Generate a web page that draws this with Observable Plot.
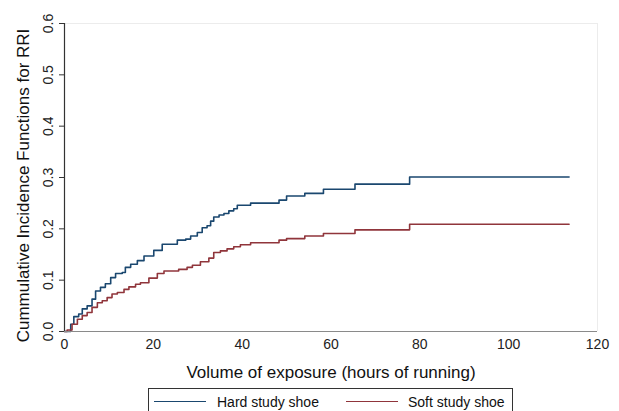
<!DOCTYPE html>
<html>
<head>
<meta charset="utf-8">
<script src="https://cdn.jsdelivr.net/npm/d3@7"></script>
<script src="https://cdn.jsdelivr.net/npm/@observablehq/plot@0.6"></script>
<style>
  html, body { margin: 0; padding: 0; background: #fff; }
  #wrap { position: relative; width: 619px; height: 411px; overflow: hidden; font-family: "Liberation Sans", Arial, sans-serif; }
  #legend { position: absolute; left: 148px; top: 388px; width: 363px; height: 30px; border: 1px solid #333; box-sizing: content-box; }
  #legend .sw { position: absolute; top: 12px; width: 52px; height: 0; border-top: 1.5px solid; }
  #legend .lb { position: absolute; top: 5px; font-size: 14px; line-height: 16px; color: #111; white-space: nowrap; }
</style>
</head>
<body>
<div id="wrap"></div>
<script>
// Series: cumulative incidence (step functions)
const hardTime = [0, 1.4, 2.1, 3.2, 4.0, 5.1, 6.2, 7.0, 8.1, 9.2, 10.4, 11.5, 13.0, 13.7, 14.9, 16.4, 17.9, 20.1, 22.0, 25.4, 27.3, 28.4, 29.9, 31.0, 32.1, 32.9, 33.6, 34.8, 35.9, 37.0, 38.1, 38.9, 41.9, 48.3, 50.0, 54.1, 58.3, 65.4, 77.7, 113.6];
const hardCIF  = [0, .014, .029, .034, .044, .050, .063, .079, .086, .093, .105, .113, .115, .125, .131, .138, .147, .158, .170, .178, .180, .186, .193, .202, .206, .215, .223, .227, .230, .235, .239, .246, .250, .256, .264, .269, .277, .287, .301, .301];

const softTime = [0, 0.6, 1.7, 2.9, 4.0, 5.1, 6.2, 7.4, 8.5, 9.6, 10.7, 11.9, 13.4, 14.5, 16.0, 17.1, 19.0, 20.9, 22.4, 25.7, 27.6, 28.8, 30.6, 32.5, 33.6, 35.1, 36.6, 38.1, 39.6, 41.9, 48.3, 50.0, 54.1, 58.3, 65.4, 77.7, 113.6];
const softCIF  = [0, .003, .014, .024, .031, .037, .047, .056, .060, .066, .073, .076, .082, .087, .092, .095, .104, .113, .118, .121, .125, .129, .136, .143, .154, .157, .161, .165, .169, .173, .178, .181, .186, .191, .198, .209, .209];

const seriesNames = ["Hard study shoe", "Soft study shoe"];
const seriesColors = ["#1a476f", "#90353b"];
const xTicks = [0, 20, 40, 60, 80, 100, 120];
const yTicks = [0, 0.1, 0.2, 0.3, 0.4, 0.5, 0.6];
const xTitle = "Volume of exposure (hours of running)";
const yTitle = "Cummulative Incidence Functions for RRI";

const hard = hardTime.map((t, i) => ({t, v: hardCIF[i]}));
const soft = softTime.map((t, i) => ({t, v: softCIF[i]}));

const chart = Plot.plot({
  width: 619,
  height: 386,
  marginTop: 23,
  marginBottom: 55,
  marginLeft: 64,
  marginRight: 22,
  style: { fontFamily: '"Liberation Sans", Arial, sans-serif', fontSize: "14px", color: "#222", background: "#fff" },
  x: { domain: [0, 120] },
  y: { domain: [0, 0.6] },
  marks: [
    Plot.ruleY([0.6], { stroke: "#ececec" }),
    Plot.ruleX([120], { stroke: "#ececec" }),
    Plot.line(hard, { x: "t", y: "v", curve: "step-after", stroke: seriesColors[0], strokeWidth: 1.6 }),
    Plot.line(soft, { x: "t", y: "v", curve: "step-after", stroke: seriesColors[1], strokeWidth: 1.6 }),
    Plot.ruleY([0], { stroke: "#8a8a8a", strokeWidth: 1.2 }),
    Plot.ruleX([0], { stroke: "#333", strokeWidth: 1.2 }),
    Plot.axisY({ ticks: yTicks, tickFormat: d3.format(".1f"), tickRotate: -90, tickSize: 5, tickPadding: 7, label: null, stroke: "#333" }),
    Plot.axisX({ ticks: xTicks, tickFormat: d3.format("d"), tickSize: 0, tickPadding: 8, label: null }),
    Plot.text([xTitle], { frameAnchor: "bottom", lineAnchor: "bottom", dy: 46, fontSize: 17, fill: "#111" }),
    Plot.text([yTitle], { frameAnchor: "left", textAnchor: "middle", rotate: -90, lineAnchor: "bottom", dx: -36, dy: 8, fontSize: 17, fill: "#111" })
  ]
});

const wrap = document.getElementById("wrap");
wrap.appendChild(chart);

const legend = document.createElement("div");
legend.id = "legend";
const swLeft = [5, 197];
const lbLeft = [68, 259];
seriesNames.forEach((name, i) => {
  const sw = document.createElement("span");
  sw.className = "sw";
  sw.style.left = swLeft[i] + "px";
  sw.style.borderTopColor = seriesColors[i];
  legend.appendChild(sw);
  const lb = document.createElement("span");
  lb.className = "lb";
  lb.style.left = lbLeft[i] + "px";
  lb.textContent = name;
  legend.appendChild(lb);
});
wrap.appendChild(legend);
</script>
</body>
</html>
